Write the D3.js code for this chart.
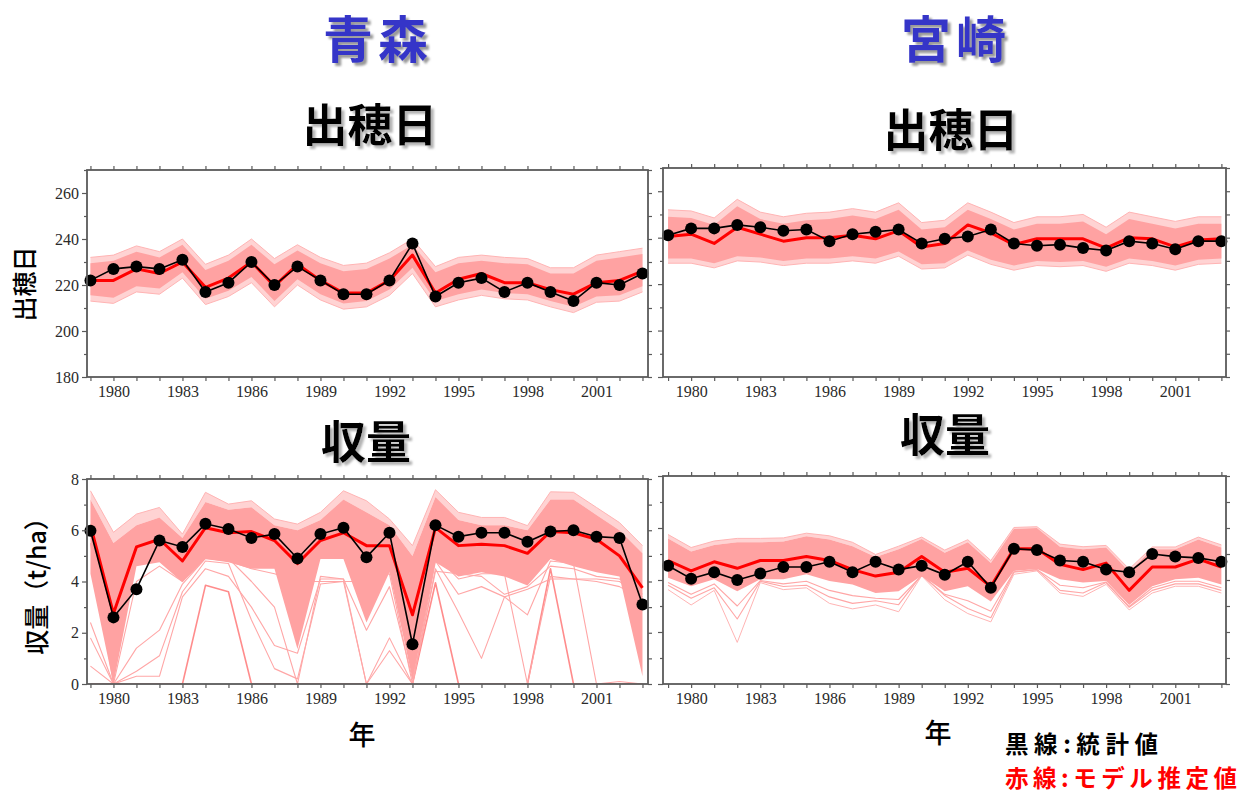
<!DOCTYPE html>
<html>
<head>
<meta charset="utf-8">
<script src="https://cdn.jsdelivr.net/npm/d3@7"></script>
<style>
  body { margin: 0; background: #fff; }
  svg { display: block; }
</style>
</head>
<body>
<svg id="chart" width="1245" height="794"></svg>
<script>
// ---- data -------------------------------------------------------------
const years = [1979,1980,1981,1982,1983,1984,1985,1986,1987,1988,1989,1990,1991,
               1992,1993,1994,1995,1996,1997,1998,1999,2000,2001,2002,2003];
const yearTicks = [1980,1983,1986,1989,1992,1995,1998,2001];
const headingTicks = [180,200,220,240,260];
const yieldTicks = [0,2,4,6,8];

// 青森 出穂日 (day of year)
const aoHeadObs   = [222,227,228,227,231,217,221,230,220,228,222,216,216,222,238,215,221,223,217,221,217,213,221,220,225];
const aoHeadModel = [222,222,227,225,230,219,223,230,219.5,229,222,216.5,216.5,222,233,216.5,222.5,225,221,221,218,216,221,222,226];
const aoHeadOuterTop = [232,233,237,234.5,240,229,233,240,231.5,237.5,232,228.5,229.5,234,240,228,232,233,232,231.5,227.5,227.5,233,234.5,236];
const aoHeadCoreTop  = [229.5,230.5,234.5,232,237.5,226.5,230.5,237.5,229,235,229.5,226,227,231.5,237.5,225.5,229.5,230.5,229.5,229,225,225,230.5,232,233.5];
const aoHeadCoreBot  = [215.5,214.5,219.5,218.5,225.5,214,217.5,223.5,213,222.5,216,212,213,218,227.5,213,216,218,216.5,216,213,210.5,215,215.5,219.5];
const aoHeadOuterBot = [213,212,217,216,223,211.5,215,221,210.5,220,213.5,209.5,210.5,215.5,225,210.5,213.5,215.5,214,213.5,210.5,208,212.5,213,217];

// 宮崎 出穂日
const miHeadObs   = [241,244,244,245.5,244.5,243,243.5,238.5,241.5,242.5,243.5,237.5,239.5,240.5,243.5,237.5,236.5,237,235.5,234.5,238.5,237.5,235,238.5,238.5];
const miHeadModel = [240.5,241.5,237.5,244.5,241.5,238.5,240,240,241,239.5,243,236,237.5,245.5,242,237,239.5,239.5,239.5,235.5,240,239.5,236,239,239.5];
const miHeadOuterTop = [252,251.5,248.5,256.5,251,249,250.5,251,252.5,251,255,246.5,247.5,255,251,246.5,249,249,250,244.5,251,249,247,249,249];
const miHeadCoreTop  = [249,248.5,245.5,253.5,248,246,247.5,248,249.5,248,252,243.5,244.5,252,248,243.5,246,246,247,241.5,248,246,244,246,246];
const miHeadCoreBot  = [231,231,229,232,231.5,230,231,231,232,231,234,228.5,229,234.5,230.5,228,230,229.5,230,227.5,231,230,228,230.5,231];
const miHeadOuterBot = [229,229,227,230,229.5,228,229,229,230,229,232,226.5,227,232.5,228.5,226,228,227.5,228,225.5,229,228,226,228.5,229];

// 青森 収量 (t/ha)
const aoYieldObs   = [5.98,2.6,3.7,5.6,5.35,6.25,6.05,5.7,5.85,4.9,5.85,6.1,4.95,5.9,1.55,6.2,5.75,5.9,5.9,5.55,5.95,6.0,5.75,5.7,3.1];
const aoYieldModel = [6.2,2.75,5.35,5.65,4.8,6.1,5.9,5.95,5.6,4.7,5.6,5.9,5.4,5.4,2.7,6.1,5.4,5.45,5.4,5.1,5.95,5.9,5.65,5.0,3.75];
const aoYieldOuterTop = [7.54,5.92,6.63,6.89,5.85,7.48,7.02,7.15,6.44,6.24,6.7,7.54,7.15,6.44,5.4,7.58,6.7,6.5,6.5,6.18,7.5,7.48,6.89,6.3,5.4];
const aoYieldCoreTop  = [7.2,5.5,6.2,6.5,5.7,7.1,6.8,6.9,6.2,6.0,6.4,7.2,6.7,6.2,5.0,7.3,6.4,6.2,6.2,6.0,7.2,7.2,6.6,6.0,5.1];
const aoYieldCoreBot  = [4.3,0.0,4.6,4.75,3.97,4.88,4.75,4.5,4.5,1.37,4.88,4.88,2.4,4.36,0.2,4.75,4.2,4.36,4.2,3.84,4.88,4.6,4.36,4.2,0.3];
// individual ensemble members that fall outside the main band
const aoYieldMemberA = [0,0,0,0,0,3.85,3.6,0,0,0,0,0,0,0,0,3.95,0,0,0,0,4.5,0,0,0,0];
const aoYieldMemberB = [0.7,0,0.5,1.1,3.6,4.8,4.7,2.5,0.6,0.2,3.9,4.0,4.0,4.3,0,4.4,4.3,4.2,3.5,3.8,4.6,4.5,4.2,4.1,3.5];
const aoYieldMemberC = [2.4,0,1.4,2.1,3.9,4.9,4.8,4.5,4.3,4.0,4.0,4.0,0,1.8,0,4.5,2.8,1.0,3.4,3.7,4.1,4.1,4.0,3.8,3.3];
const aoYieldMemberD = [1.8,0,0.3,0.3,3.4,4.5,4.2,3.0,1.5,1.2,4.1,4.1,0,1.3,0,4.8,3.5,3.8,3.4,2.7,4.8,4.7,0,0.1,0];
const aoYieldMemberE = [5.5,0,4.0,4.6,4.0,5.0,4.9,4.0,3.0,0,4.2,4.1,2.1,3.8,0.2,5.0,4.1,4.3,4.3,0,4.2,4.1,4.1,4.0,3.4];

// 宮崎 収量 (t/ha)
const miYieldObs   = [4.55,4.05,4.3,4.0,4.25,4.5,4.5,4.7,4.3,4.7,4.4,4.55,4.2,4.7,3.7,5.2,5.15,4.75,4.7,4.4,4.3,5.0,4.9,4.85,4.7];
const miYieldModel = [4.75,4.35,4.7,4.45,4.75,4.75,4.9,4.75,4.4,4.15,4.3,4.9,4.3,4.45,3.75,5.2,5.2,4.6,4.4,4.65,3.6,4.5,4.5,4.8,4.5];
const miYieldOuterTop = [5.75,5.25,5.5,5.6,5.6,5.62,5.8,5.7,5.45,4.98,5.3,5.65,5.15,5.55,4.75,6.02,6.05,5.38,5.28,5.33,4.42,5.27,5.27,5.65,5.35];
const miYieldCoreTop  = [5.6,5.1,5.35,5.45,5.45,5.48,5.68,5.56,5.3,4.88,5.18,5.58,5.05,5.45,4.65,5.97,6.0,5.28,5.18,5.25,4.33,5.18,5.18,5.56,5.25];
const miYieldCoreBot  = [4.09,3.76,4.03,3.57,4.03,4.03,4.22,3.96,3.83,3.5,3.57,4.16,3.57,3.76,3.17,4.35,4.42,4.03,3.9,3.96,3.04,3.76,4.03,4.09,3.83];
const miYieldOuterBot = [3.63,3.04,3.6,1.6,3.9,3.63,3.7,3.1,2.89,3.04,2.78,4.16,3.24,2.71,2.39,4.22,4.35,3.5,3.37,3.83,2.85,3.5,3.76,3.76,3.5];
const miYieldMemberA  = [3.8,3.3,3.7,2.5,3.95,3.75,3.8,3.35,3.1,3.2,3.05,4.2,3.4,2.9,2.55,4.3,4.4,3.6,3.5,3.9,2.95,3.6,3.85,3.85,3.6];
const miYieldMemberB  = [3.9,3.45,3.85,3.0,3.98,3.85,3.95,3.6,3.4,3.3,3.25,4.18,3.45,3.2,2.8,4.32,4.4,3.8,3.7,3.92,2.98,3.7,3.95,3.95,3.7];

// ---- styles -----------------------------------------------------------
const CJK = "'Noto Sans CJK JP', 'Noto Sans', sans-serif";
const SERIF = "'Liberation Serif', 'DejaVu Serif', serif";
const COL = {
  frame: "#5a5a5a",
  core: "#ffa2a2",
  fringeFill: "#ffd3d3",
  fringeLine: "#ffb4b4",
  member: "#ffa6a6",
  memberStrong: "#ff8c8c",
  model: "#ff0000",
  obs: "#000000"
};

const svg = d3.select("#chart");
const defs = svg.append("defs");

// soft grey drop shadow behind the headings
function addShadow(id, color) {
  defs.append("filter").attr("id", id)
    .attr("filterUnits", "userSpaceOnUse")
    .attr("x", 0).attr("y", 0).attr("width", 1245).attr("height", 794)
    .append("feDropShadow")
    .attr("dx", 3).attr("dy", 3).attr("stdDeviation", 1.2)
    .attr("flood-color", color).attr("flood-opacity", 1);
}
addShadow("shadow-blue", "#9a9a9a");
addShadow("shadow-black", "#b4b4b4");

// ---- panel drawing ----------------------------------------------------
function drawPanel(cfg) {
  const x = d3.scaleLinear().domain(cfg.xDomain).range([cfg.left, cfg.right]);
  const y = d3.scaleLinear().domain(cfg.yDomain).range([cfg.bottom, cfg.top]);
  const g = svg.append("g");

  const clipId = "clip-" + cfg.id;
  defs.append("clipPath").attr("id", clipId)
    .append("rect")
    .attr("x", cfg.left).attr("y", cfg.top)
    .attr("width", cfg.right - cfg.left).attr("height", cfg.bottom - cfg.top);

  const plot = g.append("g").attr("clip-path", `url(#${clipId})`);

  const band = (lo, hi) => d3.area()
    .x((d, i) => x(years[i]))
    .y0((d, i) => y(lo[i]))
    .y1((d, i) => y(hi[i]))(years);
  const line = vals => d3.line()
    .x((d, i) => x(years[i]))
    .y(d => y(d))(vals);

  // light fringe of the ensemble
  if (cfg.fillFringe) {
    plot.append("path").attr("d", band(cfg.outerBot, cfg.outerTop))
      .attr("fill", COL.fringeFill);
  } else if (cfg.outerTop) {
    plot.append("path").attr("d", band(cfg.coreTop, cfg.outerTop))
      .attr("fill", COL.fringeFill);
  }
  [cfg.outerTop, cfg.outerBot].filter(Boolean).forEach(v => {
    plot.append("path").attr("d", line(v))
      .attr("fill", "none").attr("stroke", COL.fringeLine).attr("stroke-width", 1);
  });

  // individual ensemble members
  (cfg.members || []).forEach((m, k) => {
    const strong = k === 0 && cfg.strongFirst;
    plot.append("path").attr("d", line(m))
      .attr("fill", "none")
      .attr("stroke", strong ? COL.memberStrong : COL.member)
      .attr("stroke-width", strong ? 1.6 : 1.1)
      .attr("stroke-linejoin", "round");
  });

  // dense core of the ensemble
  plot.append("path").attr("d", band(cfg.coreBot, cfg.coreTop))
    .attr("fill", COL.core);

  // model estimate
  plot.append("path").attr("d", line(cfg.model))
    .attr("fill", "none").attr("stroke", COL.model)
    .attr("stroke-width", 3).attr("stroke-linejoin", "round");

  // statistics
  plot.append("path").attr("d", line(cfg.obs))
    .attr("fill", "none").attr("stroke", COL.obs).attr("stroke-width", 1.6);
  g.selectAll("circle.obs").data(cfg.obs).join("circle")
    .attr("class", "obs")
    .attr("cx", (d, i) => x(years[i]))
    .attr("cy", d => y(d))
    .attr("r", 6)
    .attr("fill", COL.obs);

  // axes
  const styleAxis = sel => {
    sel.select(".domain").remove();
    sel.selectAll(".tick line").attr("stroke", COL.frame).attr("stroke-width", 1.2);
    sel.selectAll("text")
      .attr("font-family", SERIF).attr("font-size", 16).attr("fill", "#2a2a2a");
  };

  g.append("g").attr("transform", `translate(0,${cfg.bottom})`)
    .call(d3.axisBottom(x).tickValues(years).tickSize(4).tickPadding(5)
      .tickFormat(d => yearTicks.includes(d) ? d : ""))
    .call(styleAxis);
  g.append("g").attr("transform", `translate(0,${cfg.top})`)
    .call(d3.axisTop(x).tickValues(years).tickSize(4).tickFormat(""))
    .call(styleAxis);

  const minor = d3.range(cfg.yDomain[0], cfg.yDomain[1] + 1e-9, cfg.minorStep);
  g.append("g").attr("transform", `translate(${cfg.left},0)`)
    .call(d3.axisLeft(y).tickValues(minor.filter(v => !cfg.yTicks.includes(v))).tickSize(3).tickFormat(""))
    .call(styleAxis);
  g.append("g").attr("transform", `translate(${cfg.left},0)`)
    .call(d3.axisLeft(y).tickValues(cfg.yTicks).tickSize(5).tickPadding(3)
      .tickFormat(cfg.yLabels ? d3.format("d") : ""))
    .call(styleAxis);
  g.append("g").attr("transform", `translate(${cfg.right},0)`)
    .call(d3.axisRight(y).tickValues(minor).tickSize(4).tickFormat(""))
    .call(styleAxis);

  // frame
  g.append("rect")
    .attr("x", cfg.left).attr("y", cfg.top)
    .attr("width", cfg.right - cfg.left).attr("height", cfg.bottom - cfg.top)
    .attr("fill", "none").attr("stroke", COL.frame).attr("stroke-width", 1.8);
}

drawPanel({
  id: "ao-head", left: 87, right: 648, top: 170, bottom: 377,
  xDomain: [1978.85, 2003.24], yDomain: [180, 270],
  yTicks: headingTicks, minorStep: 10, yLabels: true,
  obs: aoHeadObs, model: aoHeadModel,
  outerTop: aoHeadOuterTop, outerBot: aoHeadOuterBot, fillFringe: true,
  coreTop: aoHeadCoreTop, coreBot: aoHeadCoreBot
});
drawPanel({
  id: "mi-head", left: 663, right: 1226, top: 168, bottom: 377,
  xDomain: [1978.78, 2003.2], yDomain: [180, 270],
  yTicks: headingTicks, minorStep: 10, yLabels: false,
  obs: miHeadObs, model: miHeadModel,
  outerTop: miHeadOuterTop, outerBot: miHeadOuterBot, fillFringe: true,
  coreTop: miHeadCoreTop, coreBot: miHeadCoreBot
});
drawPanel({
  id: "ao-yield", left: 87, right: 648, top: 479, bottom: 684,
  xDomain: [1978.85, 2003.24], yDomain: [0, 8],
  yTicks: yieldTicks, minorStep: 1, yLabels: true,
  obs: aoYieldObs, model: aoYieldModel,
  outerTop: aoYieldOuterTop,
  coreTop: aoYieldCoreTop, coreBot: aoYieldCoreBot,
  members: [aoYieldMemberA, aoYieldMemberB, aoYieldMemberC, aoYieldMemberD, aoYieldMemberE],
  strongFirst: true
});
drawPanel({
  id: "mi-yield", left: 663, right: 1226, top: 476, bottom: 684,
  xDomain: [1978.78, 2003.2], yDomain: [0, 8],
  yTicks: yieldTicks, minorStep: 1, yLabels: false,
  obs: miYieldObs, model: miYieldModel,
  outerTop: miYieldOuterTop, outerBot: miYieldOuterBot,
  coreTop: miYieldCoreTop, coreBot: miYieldCoreBot,
  members: [miYieldMemberA, miYieldMemberB]
});

// ---- text -------------------------------------------------------------
function heading(x, y, txt, size, color, filterId, spacing) {
  svg.append("text").attr("x", x).attr("y", y).text(txt)
    .attr("font-family", CJK).attr("font-weight", 700)
    .attr("font-size", size).attr("text-anchor", "middle")
    .attr("letter-spacing", spacing || 0)
    .attr("fill", color).attr("filter", `url(#${filterId})`);
}

heading(378, 58, "青森", 50, "#3535c8", "shadow-blue", 5);
heading(956, 58, "宮崎", 50, "#3535c8", "shadow-blue", 5);
heading(370, 142, "出穂日", 45, "#000", "shadow-black");
heading(951, 147, "出穂日", 45, "#000", "shadow-black");
heading(366, 459, "収量", 45, "#000", "shadow-black");
heading(945, 452, "収量", 45, "#000", "shadow-black");

svg.append("text").attr("x", 362).attr("y", 745).attr("text-anchor", "middle")
  .attr("font-family", CJK).attr("font-weight", 500).attr("font-size", 27).text("年");
svg.append("text").attr("x", 938).attr("y", 743).attr("text-anchor", "middle")
  .attr("font-family", CJK).attr("font-weight", 500).attr("font-size", 27).text("年");

// rotated axis titles
svg.append("text").attr("transform", "translate(23,284) rotate(-90)")
  .attr("text-anchor", "middle").attr("dominant-baseline", "central")
  .attr("font-family", CJK).attr("font-weight", 500).attr("font-size", 25).text("出穂日");
svg.append("text").attr("transform", "translate(35,580) rotate(-90)")
  .attr("text-anchor", "middle").attr("dominant-baseline", "central")
  .attr("font-family", CJK).attr("font-weight", 500).attr("font-size", 25).text("収量（t/ha）");

// legend
svg.append("text").attr("x", 1005).attr("y", 752.5)
  .attr("font-family", CJK).attr("font-weight", 700).attr("font-size", 23.5)
  .attr("textLength", 153).attr("lengthAdjust", "spacing")
  .attr("fill", "#000").text("黒線:統計値");
svg.append("text").attr("x", 1005).attr("y", 787)
  .attr("font-family", CJK).attr("font-weight", 700).attr("font-size", 23.5)
  .attr("textLength", 232).attr("lengthAdjust", "spacing")
  .attr("fill", "#ff0000").text("赤線:モデル推定値");
</script>
</body>
</html>
